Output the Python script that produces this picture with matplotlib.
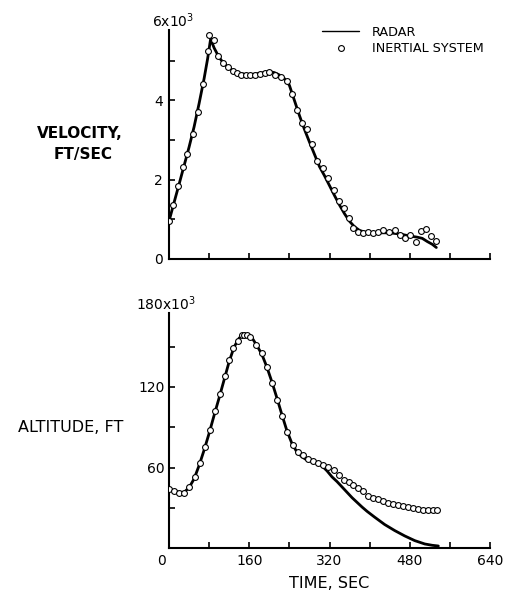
import matplotlib
matplotlib.use("Agg")
import matplotlib.pyplot as plt
from matplotlib.transforms import ScaledTranslation

# ---------------- data ----------------
# Velocity (thousands of ft/sec)
vel_t_radar = [0, 10, 20, 30, 40, 50, 60, 70, 77, 83, 90, 100, 110, 120, 130, 140, 150, 160, 170, 180,
               190, 200, 210, 220, 230, 240, 250, 260, 270, 280, 290, 300, 310, 320, 330, 340, 350, 360,
               370, 380, 390, 400, 420, 440, 460, 480, 495, 505, 515, 525, 533]
vel_v_radar = [0.95, 1.42, 1.88, 2.35, 2.82, 3.33, 3.92, 4.55, 5.05, 5.55, 5.32, 5.08, 4.92, 4.81, 4.74,
               4.69, 4.66, 4.65, 4.66, 4.68, 4.70, 4.72, 4.70, 4.64, 4.55, 4.38, 4.00, 3.62, 3.27, 2.95,
               2.64, 2.33, 2.10, 1.85, 1.60, 1.36, 1.14, 0.95, 0.81, 0.72, 0.68, 0.66, 0.66, 0.66, 0.63,
               0.58, 0.55, 0.52, 0.44, 0.37, 0.29]

vel_t_ins = [0, 7, 17, 27, 35, 47, 57, 67, 77, 80, 90, 97, 107, 117, 127, 136, 144, 153, 162, 172, 181,
             191, 200, 211, 223, 235, 245, 256, 266, 276, 285, 296, 308, 318, 328, 338, 348, 358, 367,
             377, 387, 397, 407, 417, 427, 439, 451, 461, 471, 481, 492, 502, 512, 522, 532]
vel_v_ins = [0.96, 1.36, 1.83, 2.31, 2.65, 3.16, 3.71, 4.41, 5.24, 5.64, 5.51, 5.13, 4.94, 4.83, 4.75,
             4.70, 4.65, 4.65, 4.65, 4.64, 4.67, 4.69, 4.72, 4.65, 4.60, 4.48, 4.16, 3.76, 3.43, 3.28,
             2.91, 2.47, 2.29, 2.04, 1.74, 1.45, 1.28, 1.04, 0.77, 0.67, 0.65, 0.67, 0.65, 0.69, 0.72,
             0.69, 0.72, 0.61, 0.52, 0.61, 0.42, 0.71, 0.75, 0.58, 0.46]

# Altitude (thousands of ft)
alt_t_radar = [0, 10, 20, 30, 40, 50, 60, 70, 80, 90, 100, 110, 120, 130, 140, 150, 157, 165, 175, 185,
               195, 205, 215, 225, 235, 245, 255, 265, 275, 285, 295, 305, 315, 325, 335, 345, 355, 365,
               375, 385, 395, 410, 430, 450, 470, 490, 510, 525, 537]
alt_h_radar = [44, 42.5, 41.5, 41.5, 45, 51.5, 61.5, 73, 85.5, 99, 112, 125.5, 139, 150, 156.5, 159,
               159.3, 157, 151, 144.5, 135, 124, 112, 99.5, 87.5, 78, 71.5, 68, 65.5, 64.5, 63.3, 61.2,
               57.5, 53, 49.5, 45.5, 41.5, 37.5, 34, 30.5, 27.3, 23, 17.5, 13, 9, 5.5, 3, 2, 1.5]

alt_t_ins = [0, 10, 20, 30, 40, 52, 62, 72, 82, 92, 102, 112, 120, 128, 137, 145, 150, 155, 162, 173,
             185, 195, 206, 216, 226, 236, 247, 258, 268, 278, 288, 298, 308, 318, 328, 339, 348, 358,
             367, 377, 387, 397, 407, 417, 427, 437, 447, 457, 467, 477, 487, 497, 507, 517, 527, 535]
alt_h_ins = [43.7, 42.5, 41.2, 41.2, 45.4, 52.8, 63.5, 75, 88, 102, 114.6, 128, 140, 149, 154.6, 158.5,
             159, 159, 157, 151.6, 145, 135, 122.7, 110.4, 98.3, 86.2, 77, 71.3, 69, 66.4, 65.2, 63.5,
             62.2, 60.2, 57.8, 54.6, 50.9, 49.1, 47.2, 45, 42.2, 38.7, 37.3, 36.3, 35, 33.6, 32.6, 31.8,
             31.1, 30.6, 29.6, 28.7, 28.1, 28.1, 28.1, 28.1]

x_ticks = list(range(0, 641, 80))
x_ticklabels = ["0", "", "160", "", "320", "", "480", "", "640"]
vel_ticks = [0, 1, 2, 3, 4, 5]
vel_ticklabels = ["0", "", "2", "", "4", ""]
alt_ticks = [0, 30, 60, 90, 120, 150]
alt_ticklabels = ["", "", "60", "", "120", ""]

# ---------------- figure ----------------
W, H = 512, 598
fig = plt.figure(figsize=(W / 100, H / 100), dpi=100)
plt.rcParams['font.family'] = ['DejaVu Sans']


def px_axes(x0, x1, y_top, y_bot):
    return fig.add_axes([x0 / W, 1 - y_bot / H, (x1 - x0) / W, (y_bot - y_top) / H])


ax1 = px_axes(169, 490, 21, 259)
ax2 = px_axes(169, 490, 306.5, 548)

line_kw = dict(color='black', lw=2.0, solid_capstyle='round', zorder=2)
mark_kw = dict(ls='none', marker='o', ms=4.2, mfc='white', mec='black', mew=0.8, zorder=3)

ax1.plot(vel_t_radar, vel_v_radar, label='RADAR', **line_kw)
ax1.plot(vel_t_ins, vel_v_ins, label='INERTIAL SYSTEM', **mark_kw)
ax2.plot(alt_t_radar, alt_h_radar, **line_kw)
ax2.plot(alt_t_ins, alt_h_ins, **mark_kw)

for ax in (ax1, ax2):
    ax.set_xlim(0, 640)
    ax.set_xticks(x_ticks)
    for s in ('top', 'right'):
        ax.spines[s].set_visible(False)
    for s in ('left', 'bottom'):
        ax.spines[s].set_linewidth(1.5)
    ax.tick_params(direction='in', length=4, width=1.2, labelsize=10)
    ax.patch.set_alpha(0)

ax1.set_ylim(0, 6)
ax1.set_yticks(vel_ticks)
ax1.set_yticklabels(vel_ticklabels)
ax1.set_xticklabels([])
ax1.spines['left'].set_bounds(0, 5.77)
ax1.tick_params(axis='y', pad=4.5)

ax2.set_ylim(0, 180)
ax2.set_yticks(alt_ticks)
ax2.set_yticklabels(alt_ticklabels)
ax2.set_xticklabels(x_ticklabels)
ax2.spines['left'].set_bounds(0, 175)
ax2.tick_params(axis='y', pad=3)
ax2.tick_params(axis='x', pad=4)
# shift the origin "0" slightly left, as in the reference
lbl0 = ax2.get_xticklabels()[0]
lbl0.set_transform(lbl0.get_transform() + ScaledTranslation(-7 / 100, 0, fig.dpi_scale_trans))

# top-of-axis multiplier labels
ax1.annotate('6x10$^{3}$', xy=(0, 6), xycoords=('axes fraction', 'data'),
             xytext=(-17, 0), textcoords='offset pixels', ha='left', va='center', fontsize=10)
ax2.annotate('180x10$^{3}$', xy=(0, 182), xycoords=('axes fraction', 'data'),
             xytext=(-33, 0), textcoords='offset pixels', ha='left', va='center', fontsize=10,
             annotation_clip=False)

# axis titles
fig.text(80 / W, 1 - 134 / H, 'VELOCITY,', ha='center', va='center', fontsize=11, fontweight='bold')
fig.text(83 / W, 1 - 154 / H, 'FT/SEC', ha='center', va='center', fontsize=11, fontweight='bold')
fig.text(71 / W, 1 - 427 / H, 'ALTITUDE, FT', ha='center', va='center', fontsize=11.5)
fig.text(329 / W, 1 - 584 / H, 'TIME, SEC', ha='center', va='center', fontsize=11.5)

# legend
leg = ax1.legend(loc='center left', bbox_to_anchor=(322 / W, 1 - 40.5 / H), bbox_transform=fig.transFigure,
                 frameon=False, fontsize=9.2, handlelength=2.9, handletextpad=1.0, labelspacing=0.25,
                 borderpad=0, borderaxespad=0, numpoints=1)
leg.get_lines()[0].set_linewidth(1.0)

fig.savefig('out.png', dpi=100)
